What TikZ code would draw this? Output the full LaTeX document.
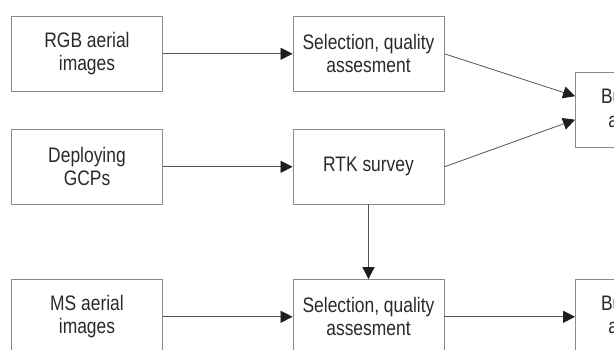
\documentclass[tikz,border=0pt]{standalone}
\usepackage{fontspec}
\setmainfont{Liberation Sans}[FakeStretch=0.83]
\usetikzlibrary{arrows.meta,calc}
\definecolor{boxgray}{HTML}{8A8A8A}
\definecolor{linegray}{HTML}{555555}
\definecolor{tipgray}{HTML}{1E1E1E}
\definecolor{txtgray}{HTML}{2A2A2A}
\begin{document}
\begin{tikzpicture}[x=1pt,y=-1pt,
  box/.style={draw=boxgray, line width=0.9pt, minimum width=151pt, minimum height=74.5pt,
    inner sep=0pt, align=center, text=txtgray, font=\fontsize{21}{23.3}\selectfont},
  arr/.style={draw=linegray, line width=0.8pt, -{Triangle[length=12pt,width=12pt,color=tipgray]}, shorten >=0pt}]
\useasboundingbox (0,0) rectangle (614,350);
\clip (0,0) rectangle (614,350);
\fill[white] (0,0) rectangle (614,350);
\node[box] (rgb) at (87,53.8) {RGB aerial\\images};
\node[box] (sel1) at (368.5,53.8) {Selection, quality\\assesment};
\node[box] (gcp) at (87,166.8) {Deploying\\GCPs};
\node[box] (rtk) at (368.5,166.8) {RTK survey};
\node[box] (ms) at (87,316.8) {MS aerial\\images};
\node[box] (sel2) at (368.5,316.8) {Selection, quality\\assesment};
\node[box] (bb1) at (651,110.2) {Bundle block\\adjustment};
\node[box] (bb2) at (651,316.8) {Bundle block\\adjustment};
\coordinate (t1) at ($(bb1.west)+(0,-14)$);
\coordinate (t2) at ($(bb1.west)+(0,9.5)$);
\draw[arr] (rgb.east) -- (sel1.west);
\draw[arr] (gcp.east) -- (rtk.west);
\draw[arr] (ms.east) -- (sel2.west);
\draw[arr] (sel1.east) -- (t1);
\draw[arr] (rtk.east) -- (t2);
\draw[arr] (rtk.south) -- (sel2.north);
\draw[arr] (sel2.east) -- (bb2.west);
\end{tikzpicture}
\end{document}
